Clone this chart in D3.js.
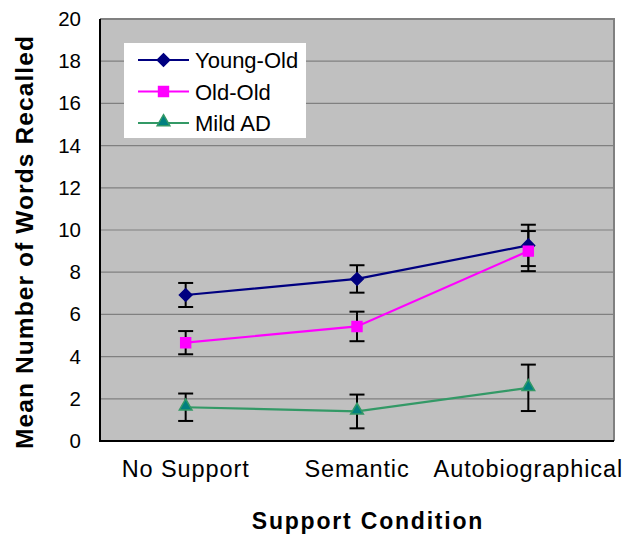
<!DOCTYPE html>
<html><head><meta charset="utf-8">
<script src="https://cdn.jsdelivr.net/npm/d3@7"></script>
<style>body{margin:0;background:#fff}svg{display:block}text{font-family:Arial,"Liberation Sans",sans-serif}</style>
</head><body>
<script>
const categories = ["No Support", "Semantic", "Autobiographical"];
const seriesNames = ["Young-Old", "Old-Old", "Mild AD"];
const youngOld = [6.92, 7.68, 9.27];
const youngOldErr = [0.57, 0.65, 0.98];
const oldOld = [4.66, 5.43, 9.0];
const oldOldErr = [0.55, 0.7, 0.95];
const mildAD = [1.6, 1.4, 2.52];
const mildADErr = [0.65, 0.8, 1.1];
const yTicks = [0, 2, 4, 6, 8, 10, 12, 14, 16, 18, 20];

const W = 626, H = 538;
const m = {left: 100, right: 614, top: 19, bottom: 441};
const svg = d3.select("body").append("svg").attr("width", W).attr("height", H);

const x = d3.scaleBand().domain(categories).range([m.left, m.right]);
const y = d3.scaleLinear().domain([0, 20]).range([m.bottom, m.top]);

svg.append("rect").attr("x", m.left).attr("y", m.top).attr("width", m.right - m.left).attr("height", m.bottom - m.top).attr("fill", "#c0c0c0");

// gridlines
svg.append("g").selectAll("line").data(yTicks.filter(d => d > 0 && d < 20)).join("line")
  .attr("x1", m.left).attr("x2", m.right).attr("y1", d => y(d)).attr("y2", d => y(d))
  .attr("stroke", "#808080").attr("stroke-width", 1.2);

// frame top/right
svg.append("path").attr("d", `M${m.left},${m.top}H${m.right}V${m.bottom}`).attr("fill", "none").attr("stroke", "#808080").attr("stroke-width", 2);

// y axis
const yAxis = svg.append("g").attr("transform", `translate(${m.left},0)`)
  .call(d3.axisLeft(y).tickValues(yTicks).tickSize(0).tickPadding(19));
yAxis.select(".domain").remove();
yAxis.selectAll("text").attr("font-size", 20.5).attr("fill", "#000").style("font-family", "Arial, 'Liberation Sans', sans-serif");

// x axis labels
const xAxis = svg.append("g").attr("transform", `translate(0,${m.bottom})`)
  .call(d3.axisBottom(x).tickSize(0).tickPadding(28));
xAxis.select(".domain").remove();
xAxis.selectAll("text").attr("font-size", 23.5).attr("fill", "#000").attr("letter-spacing", 0.9)
  .style("font-family", "Arial, 'Liberation Sans', sans-serif").attr("dy", "0.32em");

// axis lines
svg.append("path").attr("d", `M${m.left},${m.top}V${m.bottom}H${m.right}`).attr("fill", "none").attr("stroke", "#000").attr("stroke-width", 2);

const series = [
  {name: seriesNames[0], vals: youngOld, err: youngOldErr, line: "#000080", fill: "#000080", stroke: "#000080", sym: d3.symbolDiamond2, size: 100},
  {name: seriesNames[1], vals: oldOld, err: oldOldErr, line: "#ff00ff", fill: "#ff00ff", stroke: "#ff00ff", sym: d3.symbolSquare2, size: 125},
  {name: seriesNames[2], vals: mildAD, err: mildADErr, line: "#339966", fill: "#008080", stroke: "#339966", sym: d3.symbolTriangle2, size: 115}
];
const cx = c => x(c) + x.bandwidth() / 2;

// error bars
series.forEach(s => {
  const g = svg.append("g").attr("stroke", "#000").attr("stroke-width", 2);
  categories.forEach((c, i) => {
    const hi = y(s.vals[i] + s.err[i]), lo = y(s.vals[i] - s.err[i]), xc = cx(c);
    g.append("line").attr("x1", xc).attr("x2", xc).attr("y1", hi).attr("y2", lo);
    g.append("line").attr("x1", xc - 7.5).attr("x2", xc + 7.5).attr("y1", hi).attr("y2", hi);
    g.append("line").attr("x1", xc - 7.5).attr("x2", xc + 7.5).attr("y1", lo).attr("y2", lo);
  });
});

// lines and markers
series.forEach(s => {
  const line = d3.line().x((d, i) => cx(categories[i])).y(d => y(d));
  svg.append("path").attr("d", line(s.vals)).attr("fill", "none").attr("stroke", s.line).attr("stroke-width", 2.2);
  svg.append("g").selectAll("path").data(s.vals).join("path")
    .attr("transform", (d, i) => `translate(${cx(categories[i])},${y(d) - (s.sym === d3.symbolTriangle2 ? 1 : 0)})`)
    .attr("d", d3.symbol().type(s.sym).size(s.size))
    .attr("fill", s.fill).attr("stroke", s.stroke).attr("stroke-width", 1.5);
});

// legend
const lg = svg.append("g");
lg.append("rect").attr("x", 124).attr("y", 43).attr("width", 182).attr("height", 95).attr("fill", "#fff");
const rowY = [60, 91.5, 123];
series.forEach((s, i) => {
  lg.append("line").attr("x1", 138).attr("x2", 189).attr("y1", rowY[i]).attr("y2", rowY[i]).attr("stroke", s.line).attr("stroke-width", 2.2);
  lg.append("path").attr("transform", `translate(163.5,${rowY[i] - (s.sym === d3.symbolTriangle2 ? 1 : 0)})`)
    .attr("d", d3.symbol().type(s.sym).size(s.size)).attr("fill", s.fill).attr("stroke", s.stroke).attr("stroke-width", 1.5);
  lg.append("text").attr("x", 195).attr("y", rowY[i] + 8).attr("font-size", 22).text(s.name);
});

// titles
svg.append("text").attr("x", (m.left + m.right) / 2 + 11).attr("y", 528.5).attr("text-anchor", "middle")
  .attr("font-size", 23).attr("font-weight", "bold").attr("letter-spacing", 1.8).text("Support Condition");
svg.append("text").attr("transform", "translate(33,242) rotate(-90)").attr("text-anchor", "middle")
  .attr("font-size", 24.5).attr("font-weight", "bold").attr("letter-spacing", 1.1).text("Mean Number of Words Recalled");
</script>
</body></html>
